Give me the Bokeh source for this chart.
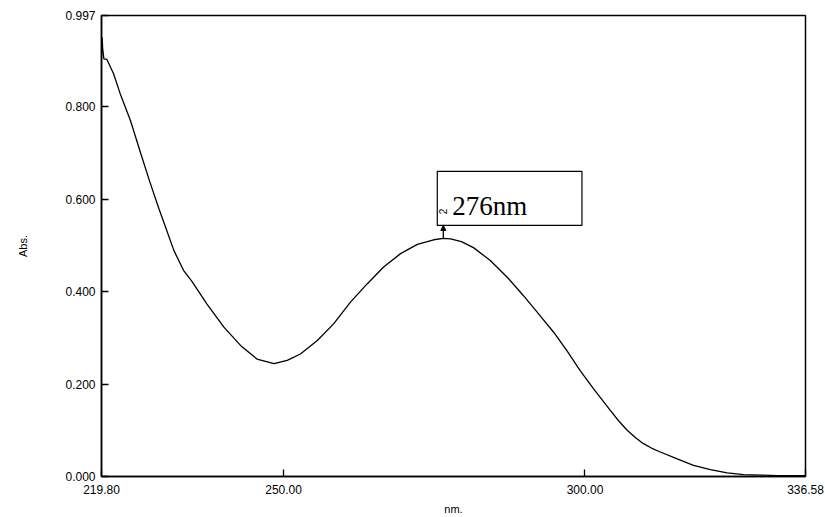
from bokeh.plotting import figure
from bokeh.models import (ColumnDataSource, FixedTicker, NumeralTickFormatter,
                          BoxAnnotation, Label, Arrow, NormalHead, Range1d)
from bokeh.embed import file_html
from bokeh.resources import INLINE

# UV absorption spectrum
wavelength = [219.80, 219.90, 220.00, 220.20, 220.70, 221.30, 221.80, 222.90,
              224.60, 226.30, 227.90, 229.30, 230.40, 231.80, 233.40, 234.80,
              237.30, 240.10, 242.90, 245.60, 248.40, 250.60, 252.80, 255.60,
              258.30, 261.10, 263.90, 266.60, 269.40, 272.20, 274.90, 276.50,
              277.70, 279.50, 281.50, 284.30, 287.10, 289.80, 292.10, 294.80,
              297.00, 299.20, 301.40, 304.20, 305.60, 307.00, 308.40, 309.70,
              311.10, 312.50, 315.30, 318.00, 320.80, 323.60, 326.30, 329.10,
              332.00, 336.58]
absorbance = [0.905, 0.950, 0.925, 0.903, 0.902, 0.885, 0.871, 0.828,
              0.770, 0.699, 0.634, 0.580, 0.540, 0.489, 0.446, 0.422,
              0.373, 0.323, 0.283, 0.254, 0.244, 0.251, 0.265, 0.294,
              0.330, 0.377, 0.417, 0.453, 0.482, 0.502, 0.512, 0.515,
              0.514, 0.508, 0.495, 0.467, 0.431, 0.391, 0.355, 0.312,
              0.272, 0.229, 0.190, 0.143, 0.120, 0.100, 0.084, 0.071,
              0.061, 0.053, 0.038, 0.024, 0.015, 0.008, 0.004, 0.003,
              0.002, 0.002]

x_ticks = [219.80, 250.00, 300.00, 336.58]
y_ticks = [0.0, 0.2, 0.4, 0.6, 0.8, 0.997]

peak_nm = 276
peak_x = 276.50
peak_abs = 0.515
peak_index = "2"

p = figure(width=825, height=517, output_backend="svg", toolbar_location=None,
           x_range=Range1d(219.80, 336.58), y_range=Range1d(0.0, 0.997),
           min_border_left=101, min_border_right=20,
           min_border_top=15, min_border_bottom=41)
p.background_fill_color = "white"
p.border_fill_color = "white"
p.xgrid.visible = False
p.ygrid.visible = False
p.outline_line_color = "black"
p.outline_line_width = 1.5
p.outline_line_alpha = 1.0

src = ColumnDataSource(dict(x=wavelength, y=absorbance))
p.line("x", "y", source=src, line_color="black", line_width=1.3)

for ax in (p.xaxis[0], p.yaxis[0]):
    ax.axis_line_color = "black"
    ax.axis_line_width = 1.5
    ax.major_tick_in = 7
    ax.major_tick_out = 0
    ax.major_tick_line_width = 1.3
    ax.minor_tick_line_color = None
    ax.major_label_text_font = "Liberation Sans"
    ax.major_label_text_font_size = "12px"
    ax.major_label_text_color = "black"
    ax.axis_label_text_font = "Liberation Sans"
    ax.axis_label_text_font_style = "normal"
    ax.axis_label_text_font_size = "11px"
    ax.axis_label_text_color = "black"

p.xaxis.ticker = FixedTicker(ticks=x_ticks)
p.xaxis.formatter = NumeralTickFormatter(format="0.00")
p.xaxis.major_label_standoff = 8
p.xaxis.axis_label = "nm."
p.xaxis.axis_label_standoff = 6

p.yaxis.ticker = FixedTicker(ticks=y_ticks)
p.yaxis.formatter = NumeralTickFormatter(format="0.000")
p.yaxis.major_label_standoff = 6
p.yaxis.axis_label = "Abs."
p.yaxis.axis_label_standoff = 33

# peak annotation box
box = BoxAnnotation(left=peak_x - 1.0, right=peak_x + 23.0,
                    bottom=peak_abs + 0.028, top=peak_abs + 0.145,
                    fill_color="white", fill_alpha=1.0,
                    line_color="black", line_alpha=1.0, line_width=1.2)
p.add_layout(box)

p.add_layout(Arrow(end=NormalHead(size=5, fill_color="black", line_color="black"),
                   x_start=peak_x, y_start=peak_abs,
                   x_end=peak_x, y_end=peak_abs + 0.028,
                   line_color="black", line_width=1.3))

p.add_layout(Label(x=peak_x + 1.5, y=peak_abs + 0.069, text=f"{peak_nm}nm",
                   text_font="Liberation Serif", text_font_size="27px",
                   text_color="black", text_baseline="alphabetic"))

p.add_layout(Label(x=peak_x - 0.1, y=peak_abs + 0.058, text=peak_index,
                   text_font="Liberation Sans", text_font_size="10px",
                   text_color="black", angle=1.5708,
                   text_align="center", text_baseline="middle"))

open("out.html", "w").write(file_html(p, INLINE))
